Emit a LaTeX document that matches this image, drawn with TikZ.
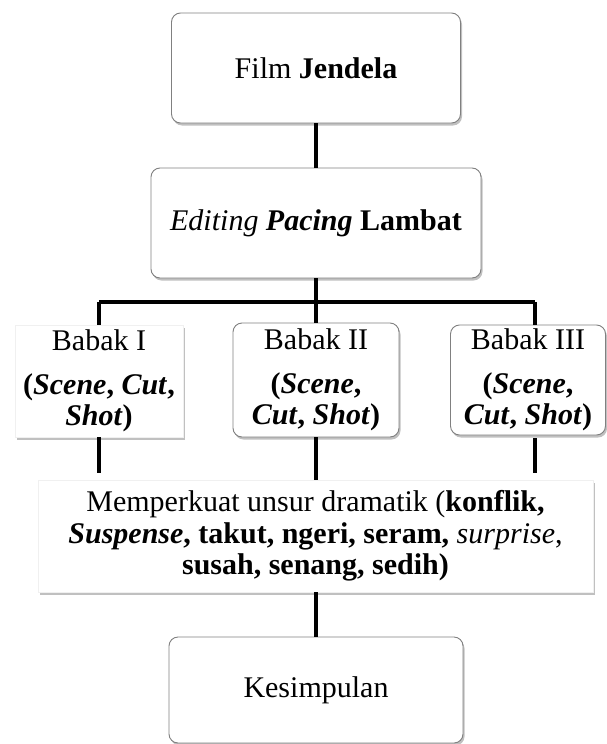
\documentclass[tikz,border=0pt]{standalone}
\usepackage{fontspec}
\setmainfont{Liberation Serif}
\usetikzlibrary{shadows}
\newcommand{\bi}[1]{\textbf{\textit{#1}}}
\tikzset{
  x=1pt, y=-1pt,
  boxbase/.style={fill=white, inner sep=0pt, align=center,
    font=\fontsize{30}{31.5}\selectfont,
    drop shadow={shadow xshift=1.5pt, shadow yshift=-2.5pt, opacity=0.35, fill=black!70}},
  roundbox/.style={boxbase, draw=black!50, line width=0.9pt, rounded corners=9pt},
  squarebox/.style={boxbase, draw=black!6, line width=0.5pt},
  link/.style={line width=4.5pt, black}
}
\begin{document}
\begin{tikzpicture}
\useasboundingbox (0,0) rectangle (606,744);
\fill[white] (0,0) rectangle (606,744);

\node[roundbox, minimum width=289pt, minimum height=110pt] (film) at (316,68) {Film \textbf{Jendela}};
\node[roundbox, minimum width=330pt, minimum height=110pt] (edit) at (316,223) {\textit{Editing} \bi{Pacing} \textbf{Lambat}};

\node[squarebox, minimum width=168pt, minimum height=112pt] (b1) at (99,381)
  {Babak I\\[12pt]\textbf{(\bi{Scene}, \bi{Cut},}\\\textbf{\bi{Shot})}};
\node[roundbox, minimum width=166pt, minimum height=114pt] (b2) at (316,380)
  {Babak II\\[12pt]\textbf{(\bi{Scene},}\\\textbf{\bi{Cut}, \bi{Shot})}};
\node[roundbox, minimum width=155pt, minimum height=110pt] (b3) at (528,380)
  {Babak III\\[12pt]\textbf{(\bi{Scene},}\\\textbf{\bi{Cut}, \bi{Shot})}};

\node[squarebox, minimum width=555pt, minimum height=112pt] (mem) at (315.5,536)
  {Memperkuat unsur dramatik (\textbf{konflik,}\\
   \bi{Suspense}\textbf{, takut, ngeri, seram,} \textit{surprise},\\
   \textbf{susah, senang, sedih)}};

\node[roundbox, minimum width=294pt, minimum height=106pt] (kes) at (316,690) {Kesimpulan};

\coordinate (hub) at (316,302);
\coordinate (hl) at (99,302);
\coordinate (hr) at (535,302);

\draw[link] (film.south) -- (edit.north);
\draw[link] (edit.south) -- (hub);
\draw[link] (hl) -- (hr);
\draw[link] (hl) -- (b1.north -| hl);
\draw[link] (hub) -- (b2.north);
\draw[link] (hr) -- (b3.north -| hr);
\draw[link, shorten >=7pt] (b1.south -| hl) -- (mem.north -| hl);
\draw[link] (b2.south) -- (mem.north -| b2.south);
\draw[link, shorten <=3pt, shorten >=7pt] (b3.south -| hr) -- (mem.north -| hr);
\draw[link] (mem.south -| kes.north) -- (kes.north);
\end{tikzpicture}
\end{document}
